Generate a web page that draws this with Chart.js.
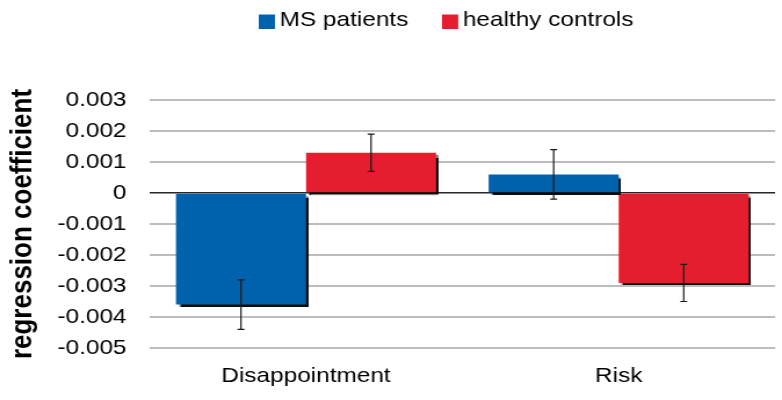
<!DOCTYPE html>
<html>
<head>
<meta charset="utf-8">
<script src="https://cdn.jsdelivr.net/npm/chart.js@4.4.1/dist/chart.umd.min.js"></script>
<style>
  html, body { margin: 0; padding: 0; background: #fff; }
</style>
</head>
<body>
<!-- the reference is a little wider than tall, so the canvas is drawn narrower and stretched -->
<canvas id="chart" width="674" height="400" style="width:782px;height:400px"></canvas>
<script>
const categories = ['Disappointment', 'Risk'];
const seriesNames = ['MS patients', 'healthy controls'];
const msPatients = [-0.0036, 0.0006];
const healthyControls = [0.0013, -0.0029];
const msErrors = [0.0008, 0.0008];
const controlErrors = [0.0006, 0.0006];
const yTicks = [-0.005, -0.004, -0.003, -0.002, -0.001, 0, 0.001, 0.002, 0.003];

const colors = ['#0062ad', '#e51e2f'];
const FONT = "'Liberation Sans', Arial, sans-serif";
Chart.defaults.font.family = FONT;

// black drop shadow under the bars
const barShadow = {
  id: 'barShadow',
  beforeDatasetsDraw(chart) {
    const ctx = chart.ctx;
    ctx.save();
    ctx.shadowColor = 'rgba(0,0,0,0.95)';
    ctx.shadowOffsetX = 2;
    ctx.shadowOffsetY = 2.5;
    ctx.shadowBlur = 1;
  },
  afterDatasetsDraw(chart) {
    chart.ctx.restore();
  }
};

const errorBars = {
  id: 'errorBars',
  afterDatasetsDraw(chart) {
    const ctx = chart.ctx;
    const y = chart.scales.y;
    const errs = [msErrors, controlErrors];
    ctx.save();
    ctx.strokeStyle = '#1a1a1a';
    ctx.lineWidth = 1.2;
    chart.data.datasets.forEach((ds, d) => {
      chart.getDatasetMeta(d).data.forEach((bar, i) => {
        const v = ds.data[i], e = errs[d][i];
        const top = y.getPixelForValue(v + e);
        const bot = y.getPixelForValue(v - e);
        ctx.beginPath();
        ctx.moveTo(bar.x, top); ctx.lineTo(bar.x, bot);
        ctx.moveTo(bar.x - 3, top); ctx.lineTo(bar.x + 3, top);
        ctx.moveTo(bar.x - 3, bot); ctx.lineTo(bar.x + 3, bot);
        ctx.stroke();
      });
    });
    ctx.restore();
  }
};

// legend with a small gap between box and text, like the original
const topLegend = {
  id: 'topLegend',
  afterDraw(chart) {
    const ctx = chart.ctx;
    const box = 14, gap = 4, itemGap = 29;
    ctx.save();
    ctx.font = '21px ' + FONT;
    const widths = chart.data.datasets.map(ds => ctx.measureText(ds.label).width);
    const total = widths.reduce((a, w) => a + box + gap + w, 0) + itemGap * (widths.length - 1);
    let x = (chart.chartArea.left + chart.chartArea.right) / 2 - 14 - total / 2;
    chart.data.datasets.forEach((ds, i) => {
      ctx.fillStyle = ds.backgroundColor;
      ctx.fillRect(x, 14.5, box, 14.5);
      ctx.fillStyle = '#000';
      ctx.textBaseline = 'alphabetic';
      ctx.fillText(ds.label, x + box + gap, 25.7);
      x += box + gap + widths[i] + itemGap;
    });
    ctx.restore();
  }
};

new Chart(document.getElementById('chart'), {
  type: 'bar',
  data: {
    labels: categories,
    datasets: [
      { label: seriesNames[0], data: msPatients, backgroundColor: colors[0] },
      { label: seriesNames[1], data: healthyControls, backgroundColor: colors[1] }
    ]
  },
  options: {
    responsive: false,
    animation: false,
    categoryPercentage: 0.832,
    barPercentage: 1,
    layout: { padding: { top: 100, right: 6, left: 0, bottom: 0 } },
    plugins: { legend: { display: false }, tooltip: { enabled: false } },
    scales: {
      x: {
        grid: { display: false, drawTicks: false },
        border: { display: false },
        ticks: { color: '#000', font: { size: 21 }, padding: 16 },
        afterFit(s) { s.height = 52; }
      },
      y: {
        min: -0.005,
        max: 0.003,
        afterBuildTicks(s) { s.ticks = yTicks.map(v => ({ value: v })); },
        ticks: {
          color: '#000',
          font: { size: 21 },
          padding: 20,
          callback: v => (v === 0 ? '0' : v.toFixed(3))
        },
        grid: {
          drawTicks: false,
          color: c => (c.tick && c.tick.value === 0 ? '#262626' : '#bdbdbd'),
          lineWidth: c => (c.tick && c.tick.value === 0 ? 1.5 : 2)
        },
        border: { display: false },
        title: {
          display: true,
          text: 'regression coefficient',
          color: '#000',
          font: { size: 26, weight: 'bold' },
          padding: { top: 4, bottom: 0 }
        },
        afterFit(s) { s.width = 129; }
      }
    }
  },
  plugins: [barShadow, errorBars, topLegend]
});
</script>
</body>
</html>
